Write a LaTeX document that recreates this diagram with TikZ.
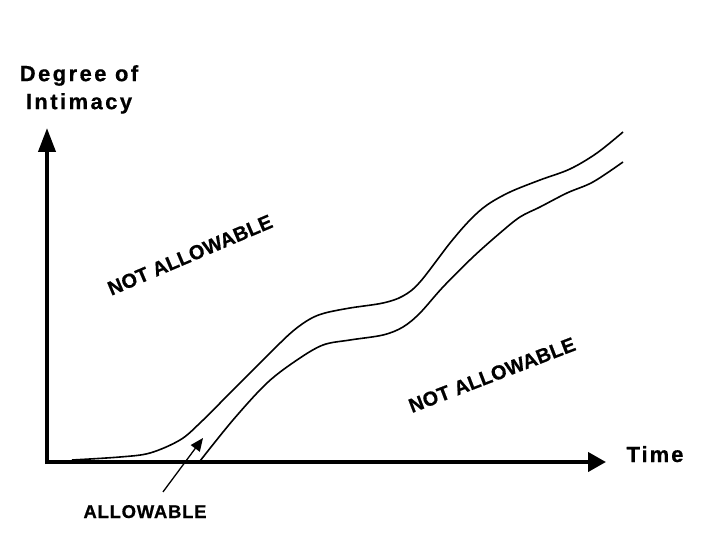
\documentclass[tikz,border=0pt]{standalone}
\usepackage{fontspec}
\setsansfont{Liberation Sans}
\usetikzlibrary{arrows.meta}
\tikzset{
  lbl/.style={inner sep=0pt},
  axis/.style={line width=4bp},
  curve/.style={line width=1.6bp, line join=round},
}
\newcommand{\lblfont}[2]{\sffamily\bfseries\addfontfeature{LetterSpace=#2,FakeBold=0.6}\fontsize{#1}{28bp}\selectfont}
\begin{document}
\begin{tikzpicture}[x=1bp,y=-1bp]
\useasboundingbox (0,0) rectangle (720,540);
% axes
\coordinate (origin) at (47,462);
\coordinate (ytop) at (47,128);
\coordinate (xend) at (606,462);
\draw[axis,-{Triangle[length=24bp,width=17bp]}] ([yshift=-2bp]origin) -- (ytop);
\draw[axis,-{Triangle[length=18bp,width=19bp]}] ([xshift=-2bp]origin) -- (xend);
% labels
\node[lbl, align=center, anchor=north, font=\lblfont{22bp}{11}] (ylab) at (79,65) {Degree of\\Intimacy};
\node[lbl, anchor=base, font=\lblfont{22bp}{9}] (xlab) at (655,462) {Time};
% band curves
\draw[curve] plot[smooth, tension=0.55] coordinates {
 (72,460) (120,457) (150,453) (180,440) (200,423) (233,390) (273,350)
 (293,331) (310,319) (325,313) (350,308) (383,303) (403,296) (420,282)
 (450,243) (470,220) (487,205) (510,192) (540,180) (570,169) (597,153) (623,132)};
\draw[curve] plot[smooth, tension=0.55] coordinates {
 (200,461) (233,420) (267,383) (297,360) (323,345) (350,340) (383,335)
 (403,327) (420,313) (443,287) (473,257) (500,233) (520,217) (540,207)
 (567,193) (593,182) (623,162)};
% region labels
\node[lbl, font=\lblfont{20bp}{1}, rotate=23] (na1) at (190,255) {NOT ALLOWABLE};
\node[lbl, font=\lblfont{20bp}{1}, rotate=21] (na2) at (492,375) {NOT ALLOWABLE};
\node[lbl, anchor=base, font=\lblfont{18.5bp}{4}] (allow) at (145,518) {ALLOWABLE};
\coordinate (tip) at (203,438);
\draw[line width=1.3bp, -{Triangle[length=13bp,width=11bp]}] ([shift={(18bp,13bp)}]allow.north) -- (tip);
\end{tikzpicture}
\end{document}
